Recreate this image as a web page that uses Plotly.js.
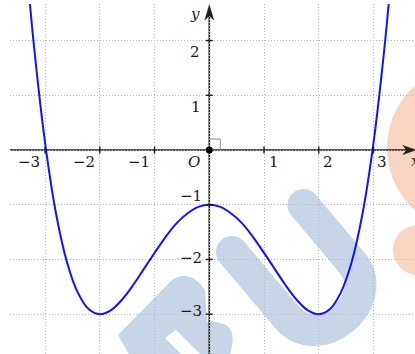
<!DOCTYPE html>
<html>
<head>
<meta charset="utf-8">
<script src="https://cdn.plot.ly/plotly-3.0.1.min.js"></script>
<style>html,body{margin:0;padding:0;background:#fff;}#chart{width:415px;height:354px;}</style>
</head>
<body>
<div id="chart"></div>
<script>
// ---- data ----
const curveX = [-3.3,-3.2,-3.0,-2.8,-2.6,-2.4,-2.2,-2.0,-1.8,-1.6,-1.4,-1.2,-1.0,-0.8,-0.6,-0.4,-0.2,0,
                0.2,0.4,0.6,0.8,1.0,1.2,1.4,1.6,1.8,2.0,2.2,2.4,2.6,2.8,3.0,3.2,3.3];
const curveY = [2.93,1.87,0.13,-1.16,-2.05,-2.61,-2.91,-3.00,-2.93,-2.74,-2.48,-2.18,-1.88,-1.59,-1.34,-1.16,-1.04,-1.00,
                -1.04,-1.16,-1.34,-1.59,-1.88,-2.18,-2.48,-2.74,-2.93,-3.00,-2.91,-2.61,-2.05,-1.16,0.13,1.87,2.93];
const xTicks = [-3,-2,-1,0,1,2,3];
const xTickLabels = ['\u22123','\u22122','\u22121','<i>O</i>','1','2','3'];
const yTicks = [-3,-2,-1,1,2];
const yTickLabels = ['\u22123','\u22122','\u22121','1','2'];
const originX = [0];
const originY = [0];

// ---- styling / layout helpers ----
const X_RANGE = [-3.641, 3.758];
const Y_RANGE = [-3.727, 2.668];
const PX = 54.73; // pixels per unit
const u = p => p / PX;
const axisColor = '#1c1c1c';
const SERIF = '"DejaVu Serif", "Liberation Serif", serif';
const labelFont = {family: SERIF, size: 15, color: '#1a1a1a'};
const xLabelShift = [-16,-16,-16,-15,10,9,8];
const yLabelShiftX = [-18,-18,-18,-13,-14];
const yLabelShiftY = [3,1,9,-12,-11];

const shapes = [];
// x axis line + arrow
const xTip = 3.775, xL = u(13), xW = u(4.5);
shapes.push({type:'line', xref:'x', yref:'y', x0:X_RANGE[0], x1:xTip - 0.7*xL, y0:0, y1:0,
  line:{color:axisColor, width:1.6}, layer:'below'});
shapes.push({type:'path', xref:'x', yref:'y',
  path:`M ${xTip},0 L ${xTip-xL},${xW} L ${xTip-0.72*xL},0 L ${xTip-xL},${-xW} Z`,
  fillcolor:axisColor, line:{color:axisColor, width:0.5}});
// y axis line + arrow
const yTip = 2.649, yL = u(15), yW = u(4.5);
shapes.push({type:'line', xref:'x', yref:'y', x0:0, x1:0, y0:Y_RANGE[0], y1:yTip - 0.7*yL,
  line:{color:axisColor, width:1.6}, layer:'below'});
shapes.push({type:'path', xref:'x', yref:'y',
  path:`M 0,${yTip} L ${yW},${yTip-yL} L 0,${yTip-0.72*yL} L ${-yW},${yTip-yL} Z`,
  fillcolor:axisColor, line:{color:axisColor, width:0.5}});
// tick marks
xTicks.forEach(t => { if (t !== 0) shapes.push({type:'line', xref:'x', yref:'y', x0:t, x1:t, y0:-u(3.5), y1:u(3.5),
  line:{color:axisColor, width:1.4}}); });
yTicks.forEach(t => shapes.push({type:'line', xref:'x', yref:'y', x0:-u(3.5), x1:u(3.5), y0:t, y1:t,
  line:{color:axisColor, width:1.4}}));
// right-angle marker at origin
shapes.push({type:'path', xref:'x', yref:'y',
  path:`M 0,${u(11)} L ${u(11)},${u(11)} L ${u(11)},0`, line:{color:'#8a8a8a', width:1}});

// annotations (tick labels and axis names)
const annotations = [];
xTicks.forEach((t,i) => annotations.push({x:t, y:0, xref:'x', yref:'y', text:xTickLabels[i], showarrow:false,
  xanchor:'center', yanchor:'middle', xshift:xLabelShift[i], yshift:-12, font:labelFont}));
yTicks.forEach((t,i) => annotations.push({x:0, y:t, xref:'x', yref:'y', text:yTickLabels[i], showarrow:false,
  xanchor:'center', yanchor:'middle', xshift:yLabelShiftX[i], yshift:yLabelShiftY[i], font:labelFont}));
annotations.push({x:0, y:0.971, xref:'x', yref:'paper', text:'<i>y</i>', showarrow:false,
  xanchor:'center', yanchor:'middle', xshift:-14, font:labelFont});
annotations.push({x:1, y:0, xref:'paper', yref:'y', text:'<i>x</i>', showarrow:false,
  xanchor:'left', yanchor:'middle', xshift:-6, yshift:-11, font:labelFont});

// watermark (page pixel coordinates)
const blue = '#c6d6e8', orange = '#f8d4c1';
const svg = `<svg xmlns="http://www.w3.org/2000/svg" width="405" height="350" viewBox="10 4 405 350" preserveAspectRatio="none">
<circle cx="470" cy="148" r="83" fill="${orange}"/>
<circle cx="418" cy="250" r="25" fill="${orange}"/>
<path d="M 232,252 L 286.7,317 C 318.8,355.3 383.9,300.7 351.8,262.4 L 303.5,205" fill="none" stroke="${blue}" stroke-width="32" stroke-linecap="round" stroke-linejoin="round"/>
<path d="M 172,280 Q 190,268 205,290 L 207,322 Q 214,320 226,325 Q 235,332 232,345 L 230,356 L 202,356 L 176,330 L 165,338 L 183,356 L 130,356 L 118,335 Z" fill="${blue}"/>
</svg>`;
const svgURI = 'data:image/svg+xml;charset=utf-8,' + encodeURIComponent(svg);

const traces = [
  {x: curveX, y: curveY, type:'scatter', mode:'lines', line:{color:'#1212ff', width:2, shape:'spline', smoothing:1},
   hoverinfo:'skip', cliponaxis:true},
  {x: originX, y: originY, type:'scatter', mode:'markers', marker:{color:'#000', size:7}, hoverinfo:'skip', cliponaxis:false}
];

const layout = {
  width:415, height:354,
  margin:{l:10, r:0, t:4, b:0},
  font:{family: SERIF, size:15, color:'#1a1a1a'},
  paper_bgcolor:'#ffffff', plot_bgcolor:'rgba(0,0,0,0)',
  showlegend:false,
  xaxis:{range:X_RANGE, tickvals:xTicks, showticklabels:false, ticks:'', showgrid:true,
    gridcolor:'#b5b5b5', gridwidth:1, griddash:'1px,2px', zeroline:false, showline:false, fixedrange:true},
  yaxis:{range:Y_RANGE, tickvals:[-3,-2,-1,0,1,2], showticklabels:false, ticks:'', showgrid:true,
    gridcolor:'#b5b5b5', gridwidth:1, griddash:'1px,2px', zeroline:false, showline:false, fixedrange:true},
  shapes: shapes,
  annotations: annotations,
  images:[{source:svgURI, xref:'paper', yref:'paper', x:0, y:1, sizex:1, sizey:1,
    xanchor:'left', yanchor:'top', sizing:'stretch', layer:'below'}]
};

Plotly.newPlot('chart', traces, layout, {staticPlot:true, displayModeBar:false});
</script>
</body>
</html>
